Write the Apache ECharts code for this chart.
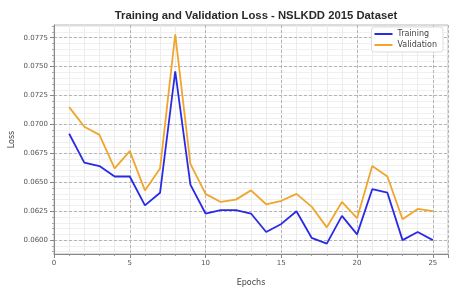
<!DOCTYPE html>
<html><head><meta charset="utf-8">
<script src="https://cdn.jsdelivr.net/npm/echarts@6/dist/echarts.min.js"></script>
<style>html,body{margin:0;padding:0;background:#fff}#c{width:460px;height:290px}</style>
</head><body><div id="c"></div>
<script>
const epochs = [1,2,3,4,5,6,7,8,9,10,11,12,13,14,15,16,17,18,19,20,21,22,23,24,25];
const training = [0.0692,0.0667,0.0664,0.0655,0.0655,0.0630,0.0641,0.0746,0.0648,0.0623,0.0626,0.0626,0.0623,0.0607,0.0614,0.0625,0.0602,0.0597,0.0621,0.0605,0.0644,0.0641,0.0600,0.0607,0.0600];
const validation = [0.0715,0.0698,0.0691,0.0662,0.0677,0.0643,0.0662,0.0778,0.0666,0.0640,0.0633,0.0635,0.0643,0.0631,0.0634,0.0640,0.0629,0.0611,0.0633,0.0619,0.0664,0.0655,0.0618,0.0627,0.0625];
const xTicks = [0,5,10,15,20,25];
const yTicks = [0.0600,0.0625,0.0650,0.0675,0.0700,0.0725,0.0750,0.0775];

const font = 'DejaVu Sans';
const chart = echarts.init(document.getElementById('c'), null, {renderer:'canvas'});
const pair = (arr) => epochs.map((e,i)=>[e,arr[i]]);
const xMin=0, xMax=26, yMin=0.0588, yMax=0.0786;
const yMinor = [];
for (let k = 118; k <= 157; k++) yMinor.push(+(k*0.0005).toFixed(4));
chart.setOption({
  backgroundColor:'#ffffff',
  animation:false,
  textStyle:{fontFamily:font},
  title:{text:'Training and Validation Loss - NSLKDD 2015 Dataset', left:251, textAlign:'center', top:5,
    textStyle:{fontSize:11.3, fontWeight:'bold', color:'#2a2a2a', fontFamily:'Liberation Sans'}},
  grid:{left:54, right:12, top:25, bottom:36, containLabel:false, outerBoundsMode:'none', show:true, borderColor:'#b8b8b8', borderWidth:1, backgroundColor:'transparent'},
  legend:{right:17, top:27, orient:'vertical', icon:'rect', itemWidth:18, itemHeight:2, itemGap:3,
    padding:[3,6,3,3], borderColor:'#dddddd', borderWidth:1, borderRadius:3, backgroundColor:'#ffffff',
    textStyle:{fontSize:8, color:'#444', fontFamily:font}, data:['Training','Validation']},
  xAxis:[
    {type:'value', min:xMin, max:xMax, interval:5, z:3,
     name:'Epochs', nameLocation:'middle', nameGap:25, nameMoveOverlap:false, nameTextStyle:{fontSize:8,color:'#444',fontFamily:font},
     axisLine:{show:true, onZero:false, lineStyle:{color:'#888', width:1}},
     axisTick:{show:true, length:4, lineStyle:{color:'#888'}},
     axisLabel:{fontSize:7, color:'#555', margin:6, formatter:(v)=> xTicks.includes(v)? String(v):''},
     splitLine:{show:true, lineStyle:{color:'#b5b5b5', type:[3,2], width:1}}},
    {type:'value', min:xMin, max:xMax, interval:1, position:'bottom', z:1,
     axisLine:{show:false}, axisTick:{show:true, length:2, lineStyle:{color:'#aaa'}},
     axisLabel:{show:false},
     splitLine:{show:true, lineStyle:{color:'#ececec', width:1}}}
  ],
  yAxis:[
    {type:'value', min:yMin, max:yMax, z:3,
     name:'Loss', nameLocation:'middle', nameGap:38, nameMoveOverlap:false, nameTextStyle:{fontSize:8,color:'#444',fontFamily:font},
     axisLine:{show:true, onZero:false, lineStyle:{color:'#888', width:1}},
     axisTick:{show:true, length:4, lineStyle:{color:'#888'}, customValues:yTicks},
     axisLabel:{fontSize:7, color:'#555', margin:6, customValues:yTicks, formatter:(v)=>v.toFixed(4)},
     splitLine:{show:true, lineStyle:{color:'#b5b5b5', type:[3,2], width:1}}},
    {type:'value', min:yMin, max:yMax, position:'left', z:1,
     axisLine:{show:false}, axisTick:{show:true, length:2, lineStyle:{color:'#aaa'}, customValues:yMinor},
     axisLabel:{show:false, customValues:yMinor},
     splitLine:{show:true, lineStyle:{color:'#f0f0f0', width:1}}}
  ],
  series:[
    {name:'Training', type:'line', data:pair(training), showSymbol:false, symbol:'none', z:5,
     lineStyle:{color:'#2a2ae6', width:1.8}, itemStyle:{color:'#2a2ae6'}},
    {name:'Validation', type:'line', data:pair(validation), showSymbol:false, symbol:'none', z:4,
     lineStyle:{color:'#f0a52c', width:1.8}, itemStyle:{color:'#f0a52c'}}
  ]
});
</script></body></html>
